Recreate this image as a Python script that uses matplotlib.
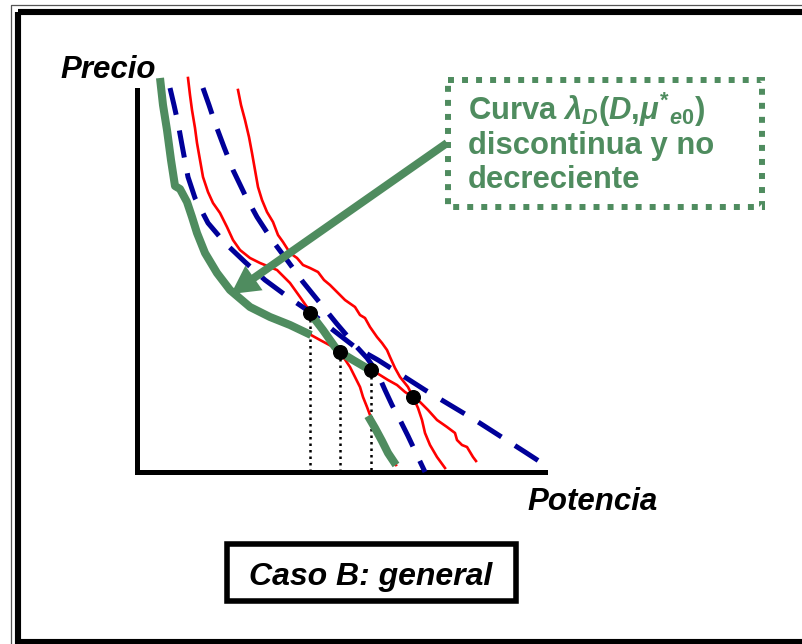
import matplotlib
matplotlib.use("Agg")
import matplotlib.pyplot as plt
from matplotlib.patches import Rectangle

plt.rcParams['font.family'] = ['Liberation Sans', 'DejaVu Sans']
plt.rcParams['mathtext.fontset'] = 'custom'
plt.rcParams['mathtext.rm'] = 'Liberation Sans:bold'
plt.rcParams['mathtext.it'] = 'Liberation Sans:bold:italic'
plt.rcParams['mathtext.bf'] = 'Liberation Sans:bold'
plt.rcParams['mathtext.sf'] = 'Liberation Sans:bold'

GREEN = '#4F8C5F'
RED = '#FF0000'
BLUE = '#000099'

# ---- curves (Potencia on x, Precio on y) ----
green_a_x = [25, 28, 32, 36, 40, 45, 52, 57, 62, 70, 82, 95, 115, 135, 155, 176]
green_a_y = [393, 366, 341, 311, 285, 282, 269, 254, 238, 218, 198, 181, 164, 154, 146, 136]
green_b_x = [175, 188, 200, 205, 218, 230, 237]
green_b_y = [158, 141, 124, 119, 111, 104, 101]
green_c_x = [233, 240, 247, 253, 261]
green_c_y = [55, 43, 30, 18, 6]

red_1_x = [53, 55, 57, 60, 62, 65, 68, 73, 78, 85, 92, 98, 105, 115, 125, 142, 155,
           165, 172, 175, 188, 200, 205, 215, 220, 225, 228, 232, 235, 240, 247, 253, 261]
red_1_y = [393, 376, 361, 343, 328, 311, 294, 279, 268, 258, 244, 231, 221, 213, 208, 201, 188,
           174, 164, 158, 141, 124, 119, 104, 94, 84, 74, 64, 56, 43, 30, 18, 6]
red_2_x = [103, 106, 110, 114, 117, 120, 123, 127, 132, 138, 143, 148, 155, 162, 168, 175, 183,
           189, 195, 203, 210, 220, 225, 230, 235, 242, 247, 252, 255, 260, 265, 273, 278, 285,
           293, 302, 312, 320, 322, 327, 332, 338, 341]
red_2_y = [381, 366, 351, 334, 318, 301, 284, 271, 259, 249, 236, 229, 218, 213, 206, 203, 199,
           191, 186, 178, 171, 164, 156, 153, 144, 134, 128, 121, 114, 103, 94, 84, 74, 69,
           61, 51, 44, 38, 31, 26, 24, 14, 10]
red_3_x = [160, 176, 185, 200, 205, 218, 230, 237, 245, 253, 262, 270, 278, 283, 287, 290, 295, 302, 310]
red_3_y = [144, 136, 131, 123, 119, 111, 104, 101, 96, 91, 86, 79, 74, 63, 51, 38, 26, 14, 3]

blue_1_x = [35, 39, 43, 47, 53, 60, 73, 90, 110, 130, 153, 175, 198, 220, 243, 265, 290, 315,
            340, 365, 390, 410]
blue_1_y = [383, 366, 348, 326, 294, 273, 248, 228, 209, 191, 174, 159, 141, 124, 111, 97, 81, 66,
            51, 35, 19, 6]
blue_2_x = [68, 74, 80, 89, 98, 110, 122, 137, 152, 168, 185, 202, 220, 232, 242, 250, 257, 265,
            273, 281, 290]
blue_2_y = [383, 366, 348, 324, 301, 276, 254, 231, 211, 189, 168, 147, 126, 113, 99, 81, 66, 51,
            35, 18, -1]

# equilibrium points; the first three are projected onto the Potencia axis
dots_x = [175, 205, 236, 278]
dots_y = [158, 119, 101, 74]
n_projected = 3

# annotation arrow from the label box to the green curve
arrow_start = (312, 328)
arrow_tip = (96, 177)

fig = plt.figure(figsize=(8.02, 6.44), dpi=100)

# background layer in pixel units: frame, labels, caption box
bg = fig.add_axes([0, 0, 1, 1])
bg.set_xlim(0, 802)
bg.set_ylim(644, 0)
bg.axis('off')
bg.plot([11, 11, 810], [650, 5, 5], color='#555555', lw=0.9, solid_capstyle='butt')
bg.add_patch(Rectangle((18, 12), 800, 630, fill=False, ec='black', lw=4.4, joinstyle='miter'))
bg.text(60, 78, 'Precio', fontsize=22.5, fontweight='bold', fontstyle='italic', va='baseline', ha='left')
bg.text(527, 510, 'Potencia', fontsize=22.5, fontweight='bold', fontstyle='italic', va='baseline', ha='left')
bg.add_patch(Rectangle((227, 544), 289, 57, fill=False, ec='black', lw=4.0, joinstyle='miter'))
bg.text(371, 585, 'Caso B: general', fontsize=23, fontweight='bold', fontstyle='italic',
        va='baseline', ha='center')
bg.add_patch(Rectangle((448, 80), 314, 127, fill=False, ec=GREEN, lw=4.3,
                       linestyle=(0, (1.0, 1.35)), joinstyle='miter'))
label_lines = [r'Curva $\lambda_D(D{,}\mu^{*}{}_{e0})$', 'discontinua y no', 'decreciente']
for i, line in enumerate(label_lines):
    bg.text(468, 120 + 34 * i, line, fontsize=22.3, fontweight='bold', color=GREEN,
            va='baseline', ha='left')

# main chart axes
ax = fig.add_axes([137 / 802, (644 - 472) / 644, 408 / 802, 382 / 644])
ax.patch.set_alpha(0)
ax.set_xlim(2, 410)
ax.set_ylim(-1, 381)
for side in ('top', 'right'):
    ax.spines[side].set_visible(False)
for side in ('left', 'bottom'):
    ax.spines[side].set_linewidth(3.6)
ax.set_xticks([])
ax.set_yticks([])

for xs, ys in ((red_1_x, red_1_y), (red_2_x, red_2_y), (red_3_x, red_3_y)):
    ax.plot(xs, ys, color=RED, lw=1.9, clip_on=False, zorder=2)
for xs, ys in ((blue_1_x, blue_1_y), (blue_2_x, blue_2_y)):
    ax.plot(xs, ys, color=BLUE, lw=3.6, linestyle=(0, (5.5, 3.2)), clip_on=False, zorder=3,
            solid_capstyle='butt', dash_capstyle='butt')
for xs, ys in ((green_a_x, green_a_y), (green_b_x, green_b_y), (green_c_x, green_c_y)):
    ax.plot(xs, ys, color=GREEN, lw=5.8, clip_on=False, zorder=4, solid_capstyle='butt')

for x, y in zip(dots_x[:n_projected], dots_y[:n_projected]):
    ax.plot([x, x], [y, 0], color='black', lw=1.8, linestyle=(0, (1, 1.6)), zorder=1)

ax.arrow(arrow_start[0], arrow_start[1], arrow_tip[0] - arrow_start[0], arrow_tip[1] - arrow_start[1],
         width=8, head_width=30, head_length=28, length_includes_head=True,
         color=GREEN, ec='none', clip_on=False, zorder=5)

ax.plot(dots_x, dots_y, 'o', color='black', ms=9.8, zorder=6, clip_on=False)

fig.savefig('out.png', dpi=100)
